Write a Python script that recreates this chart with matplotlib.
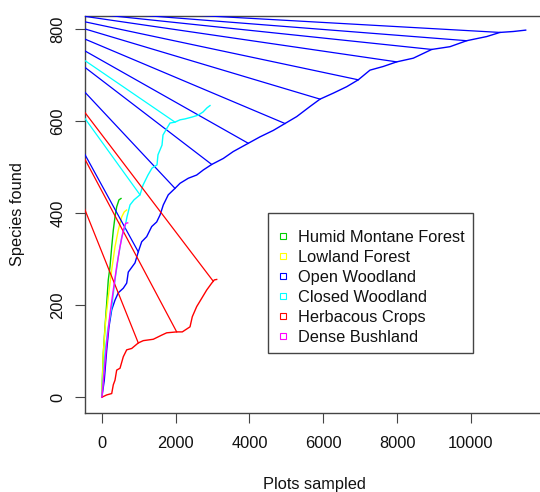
import numpy as np
import matplotlib
matplotlib.use('Agg')
import matplotlib.pyplot as plt
from matplotlib.lines import Line2D
from matplotlib.patches import Rectangle

plt.rcParams['font.family'] = ['Liberation Sans', 'DejaVu Sans']
FS = 11.8

# ---------------- data ----------------
series_names = ["Humid Montane Forest", "Lowland Forest", "Open Woodland",
                "Closed Woodland", "Herbacous Crops", "Dense Bushland"]
series_colors = ["#00CD00", "#FFFF00", "#0000FF", "#00FFFF", "#FF0000", "#FF00FF"]

humid_x = [0, 11, 38, 84, 130, 173, 220, 266, 309, 355, 401, 463, 518]
humid_y = [0, 37, 95, 153, 204, 255, 284, 327, 363, 392, 414, 429, 432]

lowland_x = [0, 38, 103, 173, 266, 355, 444, 537, 607, 672]
lowland_y = [0, 95, 168, 218, 277, 327, 363, 392, 403, 407]

open_x = [0, 65, 130, 192, 266, 355, 444, 580, 672, 715, 897, 986, 1079, 1214,
          1350, 1485, 1575, 1664, 1799, 1981, 2117, 2341, 2569, 2748, 2976, 3290,
          3559, 3967, 4285, 4645, 4962, 5279, 5640, 5912, 6271, 6634, 6948, 7265,
          7626, 7989, 8439, 8938, 9434, 9886, 10428, 10788, 11149, 11485]
open_y = [0, 37, 102, 153, 190, 211, 227, 237, 248, 272, 292, 316, 338, 349,
          371, 381, 396, 418, 440, 454, 465, 476, 483, 494, 506, 519,
          534, 552, 566, 580, 595, 610, 632, 648, 661, 675, 690, 711,
          719, 729, 737, 756, 762, 775, 784, 793, 795, 798]

closed_x = [0, 84, 157, 266, 355, 444, 537, 626, 680, 762, 870, 1033, 1114, 1249,
            1358, 1493, 1520, 1629, 1656, 1764, 1846, 1981, 2117, 2252, 2442,
            2604, 2740, 2848, 2930]
closed_y = [0, 96, 146, 196, 255, 305, 348, 370, 392, 418, 429, 440, 461, 483,
            498, 505, 527, 548, 570, 585, 596, 598, 603, 605, 609,
            613, 620, 629, 634]

crops_x = [0, 130, 266, 309, 355, 401, 491, 580, 672, 808, 986, 1122, 1393, 1621,
           1756, 2027, 2179, 2388, 2450, 2569, 2705, 2840, 2976, 3046, 3111]
crops_y = [0, 5, 8, 27, 37, 59, 63, 88, 103, 106, 118, 123, 126, 135,
           140, 142, 142, 153, 175, 197, 215, 233, 248, 255, 256]

bush_x = [0, 65, 130, 220, 309, 401, 491, 580, 645, 699]
bush_y = [0, 59, 117, 182, 233, 284, 327, 363, 378, 379]

# points of each curve joined to the common far point (upper left, off the plot)
open_link_x = [986, 1981, 2976, 3967, 4962, 5912, 6948, 7989, 8938, 9886, 10788]
open_link_y = [316, 454, 506, 552, 595, 648, 690, 729, 756, 775, 793]
closed_link_x = [1033, 1981]
closed_link_y = [440, 598]
crops_link_x = [986, 2027, 3019]
crops_link_y = [118, 142, 252]
link_far_x = -2690
link_far_y = 854

x_ticks = [0, 2000, 4000, 6000, 8000, 10000]
y_ticks = [0, 200, 400, 600, 800]
x_label = "Plots sampled"
y_label = "Species found"

# ---------------- figure ----------------
W, H = 540, 492
fig = plt.figure(figsize=(W / 100, H / 100), dpi=100)
L, R, B, T = 85.4, 541, 413, 16
ax = fig.add_axes([L / W, 1 - B / H, (R - L) / W, (B - T) / H])
ax.set_xlim(-447, 11900)
ax.set_ylim(-34.3, 828.7)

curves = [
    (humid_x, humid_y, [], []),
    (lowland_x, lowland_y, [], []),
    (open_x, open_y, open_link_x, open_link_y),
    (closed_x, closed_y, closed_link_x, closed_link_y),
    (crops_x, crops_y, crops_link_x, crops_link_y),
    (bush_x, bush_y, [], []),
]
for i, (cx, cy, lx, ly) in enumerate(curves):
    col = series_colors[i]
    ax.plot(cx, cy, color=col, lw=1.0, zorder=2 + i)
    for px, py in zip(lx, ly):
        ax.plot([px, link_far_x], [py, link_far_y], color=col, lw=0.9, zorder=2 + i)

spine_col = '#444444'
for s in ['left', 'bottom', 'top']:
    ax.spines[s].set_color(spine_col)
    ax.spines[s].set_linewidth(1.0)
ax.spines['right'].set_visible(False)

ax.set_xticks(x_ticks)
ax.set_yticks(y_ticks)
ax.set_xticklabels([str(v) for v in x_ticks])
ax.set_yticklabels([str(v) for v in y_ticks], rotation=90, va='center')
ax.tick_params(axis='both', direction='out', length=6.9, width=0.8,
               color=spine_col, labelsize=FS, labelcolor='#111111')
ax.tick_params(axis='x', pad=10)
ax.tick_params(axis='y', pad=7.5)

fig.text(314 / W, 1 - 484 / H, x_label, ha='center', va='center',
         fontsize=FS, color='#111111')
fig.text(18 / W, 1 - 214.5 / H, y_label, ha='center', va='center',
         rotation=90, fontsize=FS, color='#111111')

# legend (R-style box with open squares)
lx0, lx1, ly0, ly1 = 267.7, 473.3, 213.3, 353.3
fig.add_artist(Rectangle((lx0 / W, 1 - ly1 / H), (lx1 - lx0) / W, (ly1 - ly0) / H,
                         transform=fig.transFigure, facecolor='white',
                         edgecolor='#444444', lw=1.0, zorder=10))
for i, (name, col) in enumerate(zip(series_names, series_colors)):
    base = 241.7 + 20.1 * i
    fig.add_artist(Line2D([283.3 / W], [1 - (base - 5.8) / H], transform=fig.transFigure,
                          marker='s', markersize=4.8, markerfacecolor='none',
                          markeredgecolor=col, markeredgewidth=0.8, linestyle='none',
                          zorder=11))
    fig.text(298.3 / W, 1 - base / H, name, ha='left', va='baseline',
             fontsize=FS, color='#111111', zorder=11)

fig.savefig('out.png', dpi=100)
